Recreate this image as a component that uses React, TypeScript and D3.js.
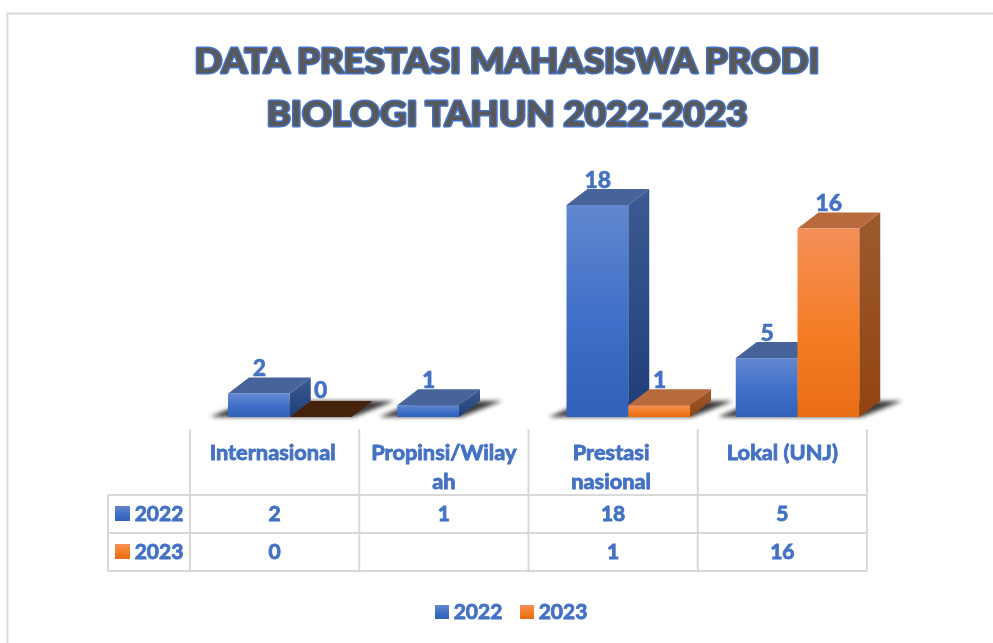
import React from "react";
import * as d3 from "d3";

const categories = ["Internasional", "Propinsi/Wilayah", "Prestasi nasional", "Lokal (UNJ)"];
const categoryLines = [["Internasional"], ["Propinsi/Wilay", "ah"], ["Prestasi", "nasional"], ["Lokal (UNJ)"]];
const seriesNames = ["2022", "2023"];
const values2022: (number | null)[] = [2, 1, 18, 5];
const values2023: (number | null)[] = [0, null, 1, 16];
const titleLines = ["DATA PRESTASI MAHASISWA PRODI", "BIOLOGI TAHUN 2022-2023"];

const FONT = "Lato, 'Open Sans', sans-serif";
const TEXT = "#4472c4";
const GRID = "#d9d9d9";

const x0 = d3.scaleBand<string>().domain(categories).range([190, 867]).paddingInner(0).paddingOuter(0);
const x1 = d3.scaleBand<string>().domain(seriesNames).range([38, 38 + 123.5]);
const y = d3.scaleLinear().domain([0, 18]).range([417, 205]);
const DX = 21, DY = 16;

const palettes = [
  { id: "b", top: "#46639a", front: ["#6287cf", "#2f62b8"], side: ["#3d5a92", "#1f3e78"], zero: "#2f4f86" },
  { id: "o", top: "#b86a3c", front: ["#f58f58", "#e96d14"], side: ["#9c5a30", "#924410"], zero: "#45220b" },
];

function Bar({ cat, s, v }: { cat: string; s: number; v: number }) {
  const p = palettes[s];
  const l = (x0(cat) as number) + (x1(seriesNames[s]) as number);
  const r = l + x1.bandwidth();
  const t = y(v);
  const b = y(0);
  if (v === 0) {
    return <polygon points={`${l},${b} ${r},${b} ${r + DX},${b - DY} ${l + DX},${b - DY}`} fill={p.zero} />;
  }
  return (
    <g>
      <polygon points={`${r},${t} ${r + DX},${t - DY} ${r + DX},${b - DY} ${r},${b}`} fill={`url(#side-${p.id})`} />
      <polygon points={`${l},${t} ${l + DX},${t - DY} ${r + DX},${t - DY} ${r},${t}`} fill={p.top} />
      <rect x={l} y={t} width={r - l} height={b - t} fill={`url(#front-${p.id})`} />
    </g>
  );
}

const series = [values2022, values2023];
const rows = [
  { name: "2022", vals: values2022, y: 514, s: 0 },
  { name: "2023", vals: values2023, y: 552, s: 1 },
];

export default function App() {
  const cols = [...categories.map((c) => x0(c) as number), 867];
  return (
    <svg width={993} height={643} viewBox="0 0 993 643" style={{ position: "absolute", left: 0, top: 0, background: "#fff" }}>
      <defs>
        {palettes.map((p) => (
          <React.Fragment key={p.id}>
            <linearGradient id={`front-${p.id}`} x1="0" y1="0" x2="0" y2="1">
              <stop offset="0" stopColor={p.front[0]} />
              <stop offset="0.55" stopColor={p.id === "b" ? "#3f6fc8" : "#f47d26"} />
              <stop offset="1" stopColor={p.front[1]} />
            </linearGradient>
            <linearGradient id={`side-${p.id}`} x1="0" y1="0" x2="0" y2="1">
              <stop offset="0" stopColor={p.side[0]} />
              <stop offset="1" stopColor={p.side[1]} />
            </linearGradient>
          </React.Fragment>
        ))}
        <filter id="blur" x="-30%" y="-60%" width="160%" height="220%">
          <feGaussianBlur stdDeviation="2.2" />
        </filter>
        <filter id="soft" x="-5%" y="-5%" width="110%" height="110%">
          <feGaussianBlur stdDeviation="0.35" />
        </filter>
      </defs>

      <path d="M7.5,643 V13.5 H993" fill="none" stroke={GRID} strokeWidth={2} />

      <g filter="url(#soft)" fontFamily={FONT} fontWeight={900} fontSize={35} textAnchor="middle" fill="#595959" stroke={TEXT} strokeWidth={3} paintOrder="stroke" strokeLinejoin="round">
        {titleLines.map((t, i) => (
          <text key={t} x={507} y={73 + i * 53} textLength={i === 0 ? 625 : 481} lengthAdjust="spacingAndGlyphs">{t}</text>
        ))}
      </g>

      {categories.map((c, i) => {
        const start = (x0(c) as number) + 38;
        const hasSecond = values2023[i] !== null;
        const w = hasSecond ? x1.bandwidth() * 2 : x1.bandwidth();
        return (
          <polygon key={c} filter="url(#blur)" fill="#3a3a3a"
            points={`${start - 18},417 ${start + w + 2},417 ${start + w + 43},${417 - DY} ${start + 20},${417 - DY}`} />
        );
      })}

      {categories.map((c, i) => (
        <g key={c}>
          {series.map((vals, s) => {
            const v = vals[i];
            return v === null ? null : <Bar key={s} cat={c} s={s} v={v} />;
          })}
        </g>
      ))}

      <g filter="url(#soft)" fontFamily={FONT} fontWeight={900} fontSize={23} fill={TEXT} stroke={TEXT} strokeWidth={0.5} textAnchor="middle">
        {categories.map((c, i) =>
          series.map((vals, s) => {
            const v = vals[i];
            if (v === null) return null;
            const cx = (x0(c) as number) + (x1(seriesNames[s]) as number) + x1.bandwidth() / 2;
            return <text key={c + s} x={cx + (v === 0 ? 0 : 0.5)} y={y(v) - DY - 1.5} dy={v === 0 ? -1.5 : 0}>{v}</text>;
          })
        )}
      </g>

      <g stroke={GRID} strokeWidth={2} fill="none">
        {cols.map((cx) => <line key={cx} x1={cx} x2={cx} y1={429} y2={571} />)}
        <line x1={108} x2={108} y1={495} y2={571} />
        {[495, 533, 571].map((ly) => <line key={ly} x1={108} x2={867} y1={ly} y2={ly} />)}
      </g>

      <g filter="url(#soft)" fontFamily={FONT} fontWeight={700} fontSize={21} fill={TEXT} stroke={TEXT} strokeWidth={0.9} textAnchor="middle">
        {categoryLines.map((lines, i) =>
          lines.map((ln, j) => (
            <text key={ln} x={(x0(categories[i]) as number) + x0.bandwidth() / 2 + (i === 2 ? -2 : i === 0 ? -2 : 0)} y={460 + j * 29} fontSize={21.8}>{ln}</text>
          ))
        )}
        {rows.map((row) => (
          <g key={row.name}>
            <text x={159} y={row.y + 7}>{row.name}</text>
            {row.vals.map((v, i) =>
              v === null ? null : (
                <text key={i} x={(x0(categories[i]) as number) + x0.bandwidth() / 2} y={row.y + 7}>{v}</text>
              )
            )}
          </g>
        ))}
        {seriesNames.map((n, i) => (
          <text key={n} x={478 + i * 85} y={619}>{n}</text>
        ))}
      </g>

      {rows.map((row) => (
        <rect key={row.name} x={115} y={row.y - 8} width={15} height={15} fill={`url(#front-${palettes[row.s].id})`} />
      ))}
      {seriesNames.map((n, i) => (
        <rect key={n} x={435 + i * 85} y={605} width={14} height={14} fill={`url(#front-${palettes[i].id})`} />
      ))}
    </svg>
  );
}
